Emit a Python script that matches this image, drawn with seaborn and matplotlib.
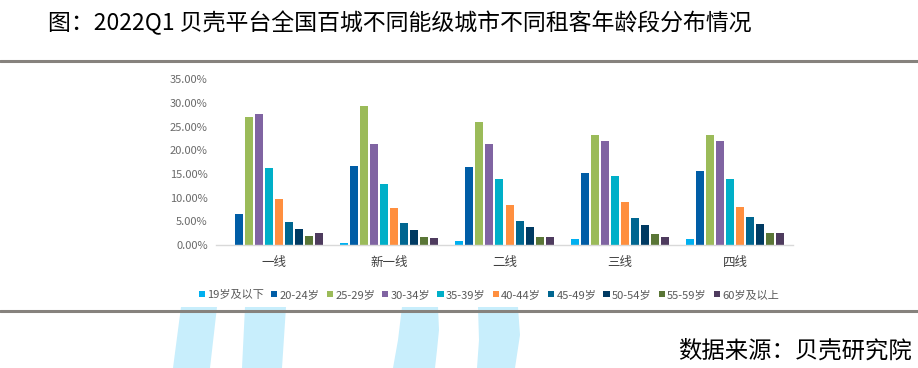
import matplotlib
matplotlib.use('Agg')
import matplotlib.pyplot as plt
from matplotlib.patches import Polygon
from matplotlib.lines import Line2D
from matplotlib.ticker import FuncFormatter
import seaborn as sns
import pandas as pd

cities = ['一线', '新一线', '二线', '三线', '四线']
age_groups = ['19岁及以下', '20-24岁', '25-29岁', '30-34岁', '35-39岁',
              '40-44岁', '45-49岁', '50-54岁', '55-59岁', '60岁及以上']

# share (%) per city tier, one list per age group
age_19_below = [0.1, 0.5, 0.85, 1.3, 1.3]
age_20_24 = [6.5, 16.7, 16.5, 15.2, 15.6]
age_25_29 = [27.1, 29.4, 26.0, 23.3, 23.3]
age_30_34 = [27.6, 21.3, 21.3, 22.0, 22.0]
age_35_39 = [16.2, 12.9, 13.9, 14.6, 13.9]
age_40_44 = [9.8, 7.9, 8.5, 9.1, 8.0]
age_45_49 = [4.8, 4.6, 5.1, 5.7, 5.9]
age_50_54 = [3.3, 3.2, 3.8, 4.2, 4.4]
age_55_59 = [1.8, 1.6, 1.7, 2.3, 2.5]
age_60_above = [2.5, 1.5, 1.6, 1.7, 2.5]

series = [age_19_below, age_20_24, age_25_29, age_30_34, age_35_39,
          age_40_44, age_45_49, age_50_54, age_55_59, age_60_above]

palette = ['#00B0F0', '#005DA6', '#9BBB59', '#8064A2', '#00AFC8',
           '#FF8F3F', '#006690', '#003A62', '#5A7636', '#4E3B5E']

rows = []
for age, vals in zip(age_groups, series):
    for city, v in zip(cities, vals):
        rows.append({'city': city, 'age': age, 'share': v})
df = pd.DataFrame(rows)

sns.set_style('white')
plt.rcParams['font.family'] = ['Noto Sans CJK SC', 'DejaVu Sans']

W, H = 918, 368
fig = plt.figure(figsize=(W / 100, H / 100), dpi=100)
ax = fig.add_axes([216 / W, 1 - 245 / H, 577 / W, 165.7 / H])

sns.barplot(data=df, x='city', y='share', hue='age', order=cities,
            hue_order=age_groups, palette=palette, width=0.87, gap=0.2,
            linewidth=0, saturation=1, ax=ax)

ax.set_ylim(0, 35)
ax.set_yticks(range(0, 36, 5))
ax.yaxis.set_major_formatter(FuncFormatter(lambda v, p: f'{v:.2f}%'))
ax.set_xlabel('')
ax.set_ylabel('')
ax.tick_params(axis='y', length=0, labelsize=8, labelcolor='#6A6A6A', pad=6)
ax.tick_params(axis='x', length=0, labelsize=9, labelcolor='#404040', pad=8)
for s in ['top', 'right', 'left']:
    ax.spines[s].set_visible(False)
ax.spines['bottom'].set_color('#D9D9D9')
ax.spines['bottom'].set_linewidth(1)

handles, labels = ax.get_legend_handles_labels()
ax.get_legend().remove()
fig.legend(handles, labels, loc='center', bbox_to_anchor=(489 / W, 1 - 295 / H),
           ncol=10, frameon=False, fontsize=8, handlelength=0.55, handleheight=0.55,
           handletextpad=0.2, columnspacing=0.65, labelcolor='#595959')

# separator lines
for y in [60.7, 310.7]:
    fig.add_artist(Line2D([0, 1], [1 - y / H, 1 - y / H], color='#86827D', lw=2.2,
                          transform=fig.transFigure))

# light decorative shapes at bottom
shapes = [
    [(181, 307), (217, 307), (210, 368), (173, 368)],
    [(245, 307), (286, 307), (282, 368), (242, 368)],
    [(402, 307), (438, 307), (439, 330), (437, 350), (435, 368), (393, 368), (398, 340)],
    [(478, 307), (518, 307), (520, 335), (515, 368), (477, 368), (479, 340)],
]
for pts in shapes:
    fig.add_artist(Polygon([(x / W, 1 - y / H) for x, y in pts], closed=True,
                           facecolor='#C8EEFC', edgecolor='none',
                           transform=fig.transFigure, zorder=0))

fig.text(48 / W, 1 - 23 / H, '图：2022Q1 贝壳平台全国百城不同能级城市不同租客年龄段分布情况',
         fontsize=16.5, va='center', ha='left', color='black')
fig.text(912 / W, 1 - 351 / H, '数据来源：贝壳研究院', fontsize=16.8,
         va='center', ha='right', color='black')

fig.savefig('out.png', dpi=100)
